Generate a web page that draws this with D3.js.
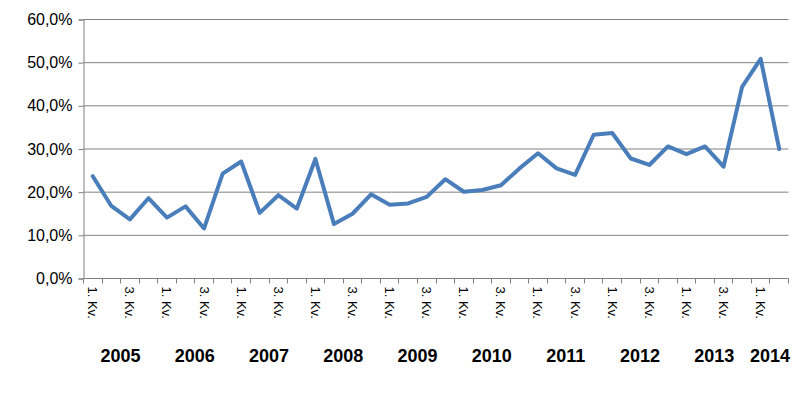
<!DOCTYPE html>
<html>
<head>
<meta charset="utf-8">
<script src="https://cdn.jsdelivr.net/npm/d3@7/dist/d3.min.js"></script>
<style>
  body { margin: 0; background: #fff; }
  text { font-family: "Liberation Sans", Arial, sans-serif; fill: #000; }
</style>
</head>
<body>
<script>
var years = [2005, 2006, 2007, 2008, 2009, 2010, 2011, 2012, 2013, 2014];
var quarterLabels = ["1. Kv.", "", "3. Kv.", ""];
var yTicks = [0, 0.1, 0.2, 0.3, 0.4, 0.5, 0.6];
// share per quarter, 2005 Q1 .. 2014 Q2
var values = [
  0.237, 0.168, 0.137, 0.186, 0.141, 0.167, 0.116, 0.243,
  0.271, 0.152, 0.193, 0.162, 0.277, 0.126, 0.150, 0.195,
  0.171, 0.174, 0.189, 0.230, 0.201, 0.205, 0.216, 0.255,
  0.290, 0.255, 0.240, 0.333, 0.337, 0.278, 0.263, 0.306,
  0.288, 0.306, 0.259, 0.444, 0.509, 0.300
];

var categories = [];
years.forEach(function(y) {
  for (var q = 0; q < 4; q++) {
    if (categories.length < values.length) categories.push({year: y, q: q, label: quarterLabels[q]});
  }
});

var width = 811, height = 396;
var margin = {top: 19.5, right: 22.5, bottom: 117.5, left: 83.5};

var xScale = d3.scaleBand()
  .domain(d3.range(categories.length))
  .range([margin.left, width - margin.right])
  .padding(0);
var yScale = d3.scaleLinear().domain([0, 0.6]).range([height - margin.bottom, margin.top]);

var svg = d3.select("body").append("svg")
  .attr("width", width)
  .attr("height", height);

var fmt = function(d) { return d3.format(".1f")(d * 100).replace(".", ",") + "%"; };

// gridlines
svg.append("g").selectAll("line")
  .data(yTicks.slice(1))
  .join("line")
  .attr("x1", margin.left)
  .attr("x2", width - margin.right)
  .attr("y1", function(d) { return yScale(d); })
  .attr("y2", function(d) { return yScale(d); })
  .attr("stroke", "#808080")
  .attr("stroke-width", 1);

// y axis
var yAxis = svg.append("g")
  .attr("transform", "translate(" + margin.left + ",0)")
  .call(d3.axisLeft(yScale).tickValues(yTicks).tickFormat(fmt).tickSize(5).tickPadding(6));
yAxis.selectAll("path, line").attr("stroke", "#808080");
yAxis.selectAll("text").style("font-size", "16px").style("font-family", "Liberation Sans, Arial, sans-serif").attr("fill", "#000");

// x axis line and ticks at category boundaries
var x0 = yScale(0);
svg.append("line")
  .attr("x1", margin.left).attr("x2", width - margin.right)
  .attr("y1", x0).attr("y2", x0)
  .attr("stroke", "#808080");
var bounds = d3.range(categories.length + 1);
svg.append("g").selectAll("line")
  .data(bounds)
  .join("line")
  .attr("x1", function(i) { return Math.round(margin.left + i * xScale.bandwidth() - 0.5) + 0.5; })
  .attr("x2", function(i) { return Math.round(margin.left + i * xScale.bandwidth() - 0.5) + 0.5; })
  .attr("y1", x0)
  .attr("y2", x0 + 5)
  .attr("stroke", "#808080");

// quarter labels (rotated)
svg.append("g").selectAll("text")
  .data(categories.map(function(c, i) { return {c: c, i: i}; }).filter(function(d) { return d.c.label; }))
  .join("text")
  .attr("transform", function(d) {
    return "translate(" + (xScale(d.i) + xScale.bandwidth() / 2) + "," + (x0 + 8) + ") rotate(90)";
  })
  .attr("dy", "0.35em")
  .style("font-size", "13px")
  .text(function(d) { return d.c.label; });

// year labels
svg.append("g").selectAll("text")
  .data(years)
  .join("text")
  .attr("x", function(y) {
    var idx = d3.range(categories.length).filter(function(i) { return categories[i].year === y; });
    return (xScale(idx[0]) + xScale(idx[idx.length - 1]) + xScale.bandwidth()) / 2;
  })
  .attr("y", 362)
  .attr("text-anchor", "middle")
  .style("font-size", "18px")
  .style("font-weight", "bold")
  .text(function(y) { return y; });

// series line
var line = d3.line()
  .x(function(d, i) { return xScale(i) + xScale.bandwidth() / 2; })
  .y(function(d) { return yScale(d); });

svg.append("path")
  .attr("d", line(values))
  .attr("fill", "none")
  .attr("stroke", "#4a7ebb")
  .attr("stroke-width", 4)
  .attr("stroke-linejoin", "round")
  .attr("stroke-linecap", "round");
</script>
</body>
</html>
